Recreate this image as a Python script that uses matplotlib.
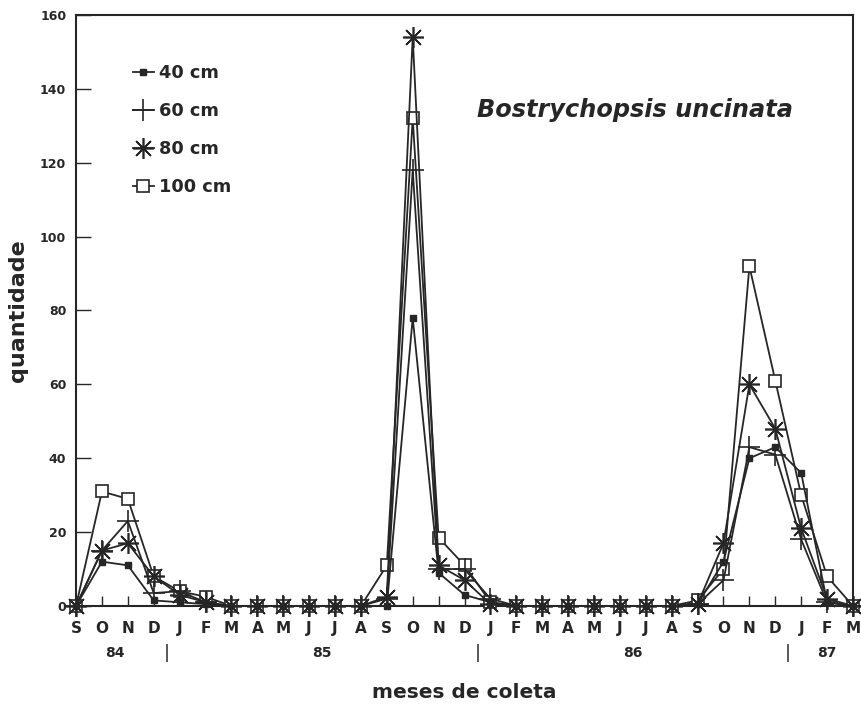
import matplotlib
matplotlib.use("Agg")
import matplotlib.pyplot as plt
import matplotlib.transforms as mtransforms

plt.rcParams['font.family'] = ['DejaVu Sans']
plt.rcParams['font.weight'] = 'bold'

# Collection months, Sep 1984 .. Mar 1987
months = ["S", "O", "N", "D", "J", "F", "M", "A", "M", "J", "J", "A",
          "S", "O", "N", "D", "J", "F", "M", "A", "M", "J", "J", "A",
          "S", "O", "N", "D", "J", "F", "M"]

# Counts per trap height
cm40 = [0, 12, 11, 1.5, 1, 0.5, 0, 0, 0, 0, 0, 0,
        0, 78, 9, 3, 1, 0, 0, 0, 0, 0, 0, 0,
        0.5, 12, 40, 43, 36, 1, 0]
cm60 = [0, 15, 23, 3.5, 4, 1, 0, 0, 0, 0, 0, 0,
        2, 118, 10, 10, 2, 0, 0, 0, 0, 0, 0, 0,
        0.5, 7, 43, 41, 18, 1, 0]
cm80 = [0, 15, 17, 8, 3, 1, 0, 0, 0, 0, 0, 0,
        2.5, 154, 11, 7, 0.5, 0, 0, 0, 0, 0, 0, 0,
        0.5, 17, 60, 48, 21, 2, 0]
cm100 = [0, 31, 29, 8, 4, 2.5, 0, 0, 0, 0, 0, 0,
         11, 132, 18.5, 11, 1, 0, 0, 0, 0, 0, 0, 0,
         1.5, 10, 92, 61, 30, 8, 0]

series_labels = ["40 cm", "60 cm", "80 cm", "100 cm"]
years = ["84", "85", "86", "87"]
year_pos = [1.5, 9.5, 21.5, 29]
year_breaks = [3.5, 15.5, 27.5]

ink = "#262626"
x = list(range(len(months)))

fig = plt.figure(figsize=(8.61, 7.08), dpi=100)
ax = fig.add_axes([0.0883, 0.1441, 0.9024, 0.8347])

styles = [
    dict(marker="s", markersize=4, markerfacecolor=ink, markeredgecolor=ink),
    dict(marker="+", markersize=16, markeredgewidth=1.2, markeredgecolor=ink),
    dict(marker=(8, 2, 0), markersize=15, markeredgewidth=1.2, markeredgecolor=ink),
    dict(marker="s", markersize=8.5, markerfacecolor="white", markeredgecolor=ink,
         markeredgewidth=1.2),
]
zorders = [6, 4, 5, 3]
for data, lab, st, z in zip([cm40, cm60, cm80, cm100], series_labels, styles, zorders):
    ax.plot(x, data, color=ink, linewidth=1.3, label=lab, clip_on=False,
            zorder=z, **st)

ax.set_xlim(0, 30)
ax.set_ylim(0, 160)
ax.set_yticks(range(0, 161, 20))
ax.set_xticks(x)
ax.set_xticklabels(months, fontsize=11, fontweight="bold")
for t in ax.get_yticklabels():
    t.set_fontsize(9)
    t.set_fontweight("bold")

ax.tick_params(axis="y", direction="in", length=11, width=1.0, pad=7, colors=ink)
ax.tick_params(axis="x", direction="in", length=7, width=1.0, pad=11, colors=ink)
for sp in ax.spines.values():
    sp.set_linewidth(1.5)
    sp.set_color(ink)

# Year row under the month labels
trans = mtransforms.blended_transform_factory(ax.transData, ax.transAxes)
for yr, pos in zip(years, year_pos):
    ax.text(pos, -0.08, yr, transform=trans, ha="center", va="center",
            fontsize=10, fontweight="bold", color=ink)
for b in year_breaks:
    ax.text(b, -0.08, "|", transform=trans, ha="center", va="center",
            fontsize=13, fontweight="normal", color=ink)

ax.set_xlabel("meses de coleta", fontsize=14.5, fontweight="bold", color=ink,
              va="center")
ax.xaxis.set_label_coords(0.5, -0.146)
ax.set_ylabel("quantidade", fontsize=16, fontweight="bold", color=ink,
              labelpad=9)

ax.text(0.719, 0.84, "Bostrychopsis uncinata", transform=ax.transAxes,
        ha="center", va="center", fontsize=17.3, fontweight="bold",
        style="italic", color=ink)

leg = ax.legend(loc="upper left", bbox_to_anchor=(0.073, 0.917), frameon=False,
                handlelength=1.2, handletextpad=0.25, labelspacing=1.12,
                borderpad=0, borderaxespad=0, markerscale=1.0,
                prop=dict(size=12.8, weight="bold"))
for t in leg.get_texts():
    t.set_color(ink)

fig.savefig("out.png", dpi=100, facecolor="white")
